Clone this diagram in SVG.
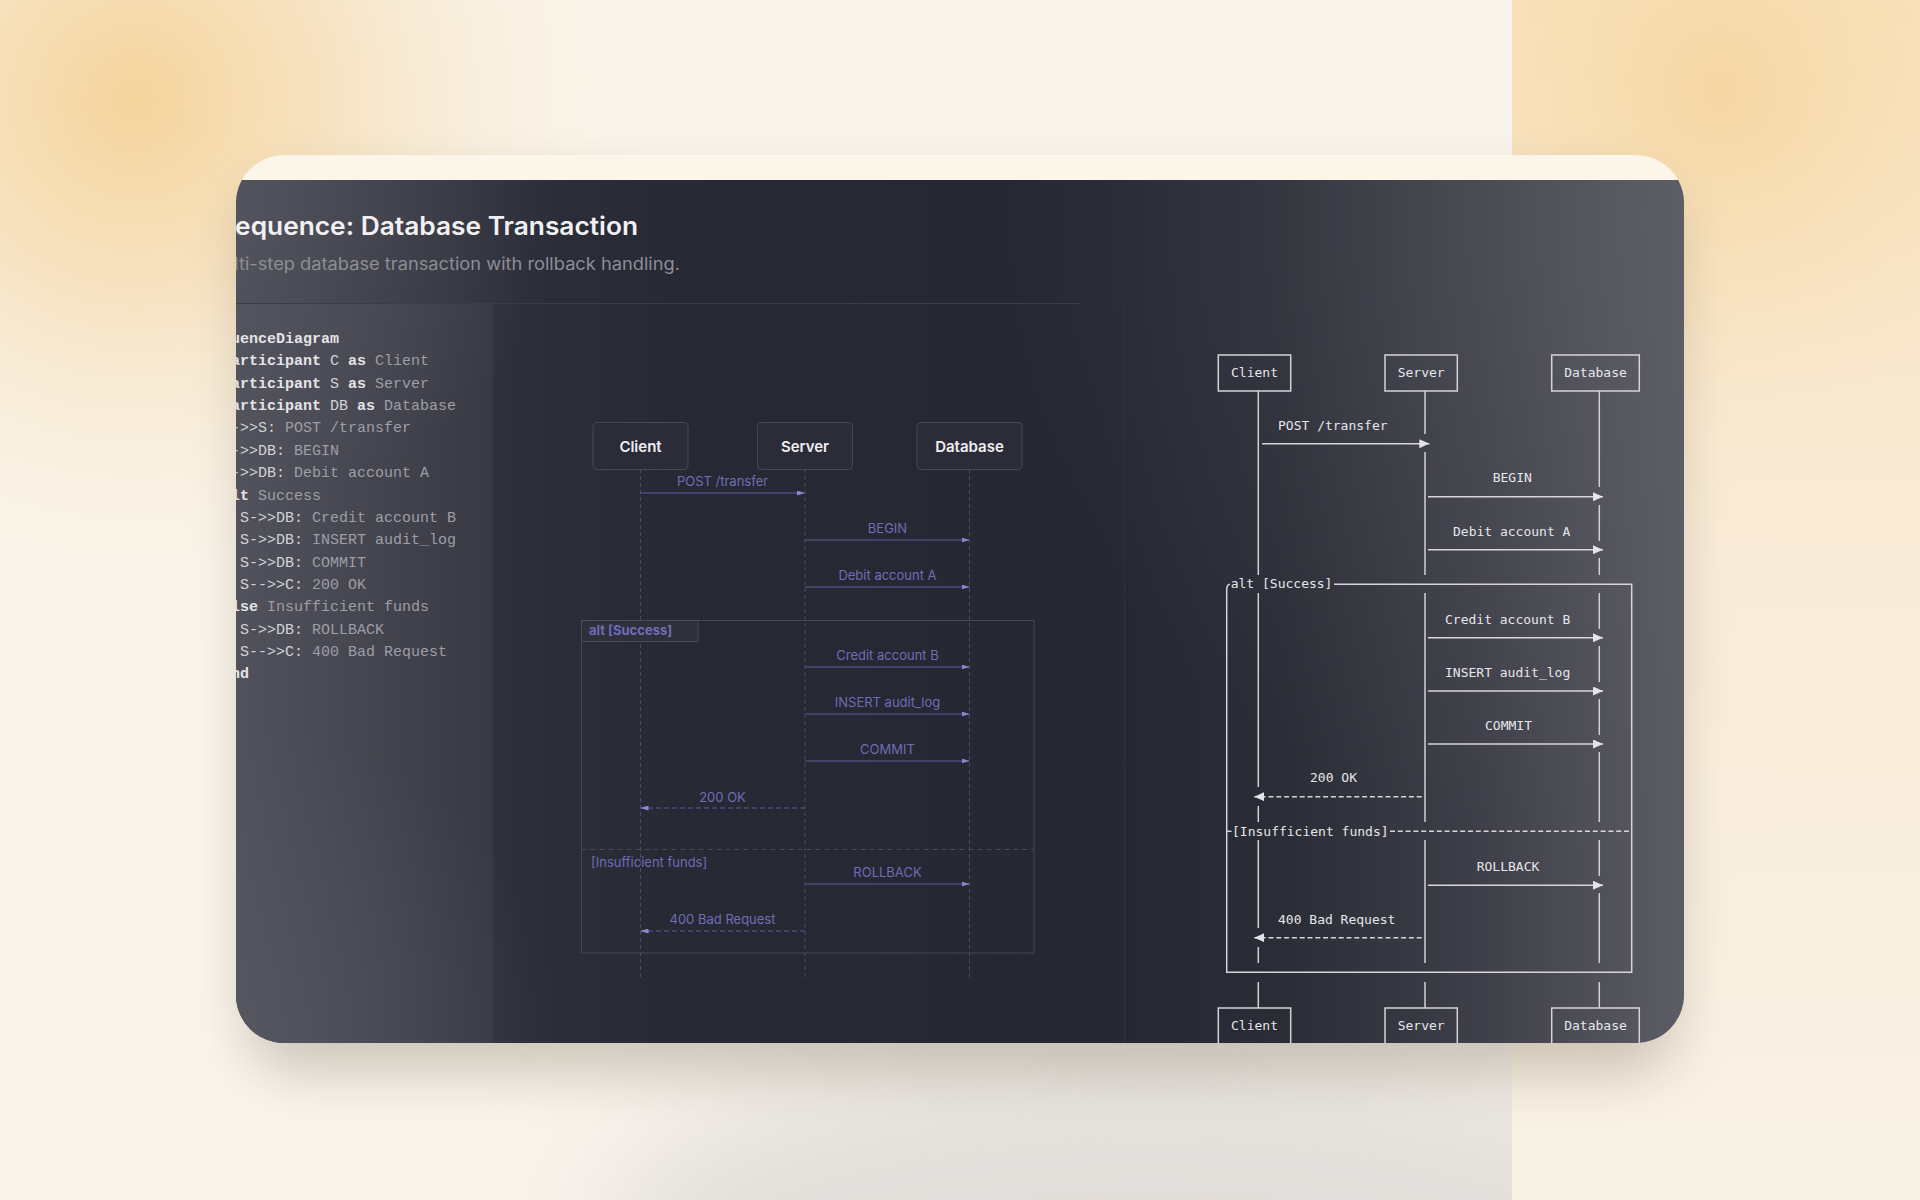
<svg xmlns="http://www.w3.org/2000/svg" width="1920" height="1200" viewBox="0 0 1920 1200">
<defs>
<radialGradient id="bgTL" cx="135" cy="100" r="560" gradientUnits="userSpaceOnUse">
<stop offset="0" stop-color="#f5d49c"/>
<stop offset="0.35" stop-color="#f7e3c2"/>
<stop offset="1" stop-color="#faf5ec" stop-opacity="0"/>
</radialGradient>
<linearGradient id="bgR" x1="0" y1="0" x2="0" y2="1">
<stop offset="0" stop-color="#f8e1ba"/>
<stop offset="0.45" stop-color="#f9ebd6"/>
<stop offset="1" stop-color="#f9f2e7"/>
</linearGradient>
<radialGradient id="bgRT" cx="1720" cy="90" r="330" gradientUnits="userSpaceOnUse">
<stop offset="0" stop-color="#f6d6a2"/>
<stop offset="1" stop-color="#f8e1ba" stop-opacity="0"/>
</radialGradient>
<linearGradient id="dark" x1="236" y1="0" x2="1684" y2="0" gradientUnits="userSpaceOnUse">
<stop offset="0" stop-color="#4e4e58"/>
<stop offset="0.08" stop-color="#3e3f49"/>
<stop offset="0.2" stop-color="#2c2e39"/>
<stop offset="0.3" stop-color="#272934"/>
<stop offset="0.6" stop-color="#252733"/>
<stop offset="0.72" stop-color="#2a2c36"/>
<stop offset="0.86" stop-color="#3e3f48"/>
<stop offset="1" stop-color="#5b5c64"/>
</linearGradient>
<linearGradient id="codeBg" x1="236" y1="0" x2="492" y2="0" gradientUnits="userSpaceOnUse">
<stop offset="0" stop-color="#52525c"/>
<stop offset="0.5" stop-color="#45464f"/>
<stop offset="1" stop-color="#383943"/>
</linearGradient>
<radialGradient id="glowTL" cx="260" cy="200" r="300" gradientUnits="userSpaceOnUse">
<stop offset="0" stop-color="#5a5a64" stop-opacity="0.45"/>
<stop offset="1" stop-color="#5a5a64" stop-opacity="0"/>
</radialGradient>
<radialGradient id="glowBL" cx="240" cy="1043" r="320" gradientUnits="userSpaceOnUse">
<stop offset="0" stop-color="#5c5c66" stop-opacity="0.45"/>
<stop offset="1" stop-color="#5c5c66" stop-opacity="0"/>
</radialGradient>
<radialGradient id="glowTR" cx="1640" cy="220" r="640" gradientUnits="userSpaceOnUse">
<stop offset="0" stop-color="#5e5f67" stop-opacity="0.5"/>
<stop offset="0.6" stop-color="#5e5f67" stop-opacity="0.18"/>
<stop offset="1" stop-color="#5e5f67" stop-opacity="0"/>
</radialGradient>
<clipPath id="cardClip"><rect x="236" y="155" width="1448" height="888" rx="48"/></clipPath>
<clipPath id="leftClip"><rect x="0" y="0" width="1512" height="1200"/></clipPath>
<filter id="shadow" x="-10%" y="-10%" width="120%" height="130%"><feGaussianBlur stdDeviation="28"/></filter>
<filter id="soft" x="-50%" y="-50%" width="200%" height="200%"><feGaussianBlur stdDeviation="70"/></filter>
<marker id="mArr" viewBox="0 0 8 5" refX="8" refY="2.5" markerWidth="8" markerHeight="5" markerUnits="userSpaceOnUse" orient="auto">
<path d="M0,0 L8,2.5 L0,5 Z" fill="#8a88d0"/>
</marker>
<marker id="rArr" viewBox="0 0 10 9" refX="10" refY="4.5" markerWidth="10" markerHeight="9" markerUnits="userSpaceOnUse" orient="auto">
<path d="M0,0 L10,4.5 L0,9 Z" fill="#e4e4e8"/>
</marker>
<style>
.title{font-family:Inter,"Noto Sans",sans-serif;font-size:25px;font-weight:600;fill:#f1f1f3}
.sub{font-family:Inter,"Noto Sans",sans-serif;font-size:17px;fill:#8d8e96}
.code{font-family:"Liberation Mono","DejaVu Sans Mono",monospace;font-size:15px}
.kw{font-weight:700;fill:#e4e4e8}
.id{fill:#d2d3d8}
.tx{fill:#9d9ea6}
.mbox{fill:#2b2c37;stroke:#474856;stroke-width:1}
.mname{font-family:Inter,"Noto Sans",sans-serif;font-size:15px;font-weight:600;fill:#eeeef2;text-anchor:middle}
.mlife{stroke:#4a4a6a;stroke-width:1;stroke-dasharray:4 3;fill:none}
.mmsg{stroke:#5e5d9c;stroke-width:1.2;fill:none}
.mdash{stroke-dasharray:5 3}
.mlbl{font-family:Inter,"Noto Sans",sans-serif;font-size:13px;fill:#6f6db4;text-anchor:middle}
.mframe{fill:none;stroke:#454657;stroke-width:1}
.mflbl{font-family:Inter,"Noto Sans",sans-serif;font-size:13px;fill:#6f6db4}
.rbox{fill:none;stroke:#d4d4d8;stroke-width:1.5}
.rtxt{font-family:"DejaVu Sans Mono","Liberation Mono",monospace;font-size:13px;fill:#e6e6ea}
.rname{text-anchor:middle}
.rline{stroke:#d6d6da;stroke-width:1.5;fill:none}
.rdash{stroke-dasharray:5 2.8}
.rlife{stroke:#cfcfd4;stroke-width:1.5;fill:none}
</style>
</defs>

<!-- background -->
<rect x="0" y="0" width="1920" height="1200" fill="#faf4ea"/>
<g clip-path="url(#leftClip)">
<rect x="0" y="0" width="1512" height="1200" fill="#faf5ec"/>
<rect x="0" y="0" width="1512" height="1200" fill="url(#bgTL)"/>
<ellipse cx="1150" cy="1240" rx="560" ry="190" fill="#d2cece" opacity="0.6" filter="url(#soft)"/>
</g>
<rect x="1512" y="0" width="408" height="1200" fill="url(#bgR)"/>
<rect x="1512" y="0" width="408" height="1200" fill="url(#bgRT)"/>

<!-- card -->
<rect x="246" y="185" width="1428" height="888" rx="48" fill="#6e6250" opacity="0.32" filter="url(#shadow)"/>
<g clip-path="url(#cardClip)">
<rect x="236" y="155" width="1448" height="888" fill="#fcf5e9"/>
<rect x="236" y="180" width="1448" height="863" fill="url(#dark)"/>
<rect x="236" y="304" width="256" height="739" fill="url(#codeBg)"/>
<rect x="236" y="180" width="1448" height="863" fill="url(#glowTL)"/>
<rect x="236" y="180" width="1448" height="863" fill="url(#glowBL)"/>
<rect x="236" y="180" width="1448" height="863" fill="url(#glowTR)"/>
<line x1="236" y1="303.5" x2="1080" y2="303.5" stroke="#3a3c48" stroke-width="1"/>
<line x1="492.5" y1="304" x2="492.5" y2="1043" stroke="#3a3b46" stroke-width="1"/>
<line x1="1124.5" y1="304" x2="1124.5" y2="1043" stroke="#30323d" stroke-width="1"/>

<text class="title" x="218" y="235" textLength="420" lengthAdjust="spacingAndGlyphs">Sequence: Database Transaction</text>
<text class="sub" x="207" y="270" textLength="473" lengthAdjust="spacingAndGlyphs">Multi-step database transaction with rollback handling.</text>

<!-- code panel -->
<g id="code" class="code">
<text x="204" y="343"><tspan class="kw">sequenceDiagram</tspan></text>
<text x="222" y="365.4"><tspan class="kw">participant</tspan> <tspan class="id">C</tspan> <tspan class="kw">as</tspan> <tspan class="tx">Client</tspan></text>
<text x="222" y="387.7"><tspan class="kw">participant</tspan> <tspan class="id">S</tspan> <tspan class="kw">as</tspan> <tspan class="tx">Server</tspan></text>
<text x="222" y="410.1"><tspan class="kw">participant</tspan> <tspan class="id">DB</tspan> <tspan class="kw">as</tspan> <tspan class="tx">Database</tspan></text>
<text x="222" y="432.4"><tspan class="id">C->>S:</tspan> <tspan class="tx">POST /transfer</tspan></text>
<text x="222" y="454.8"><tspan class="id">S->>DB:</tspan> <tspan class="tx">BEGIN</tspan></text>
<text x="222" y="477.1"><tspan class="id">S->>DB:</tspan> <tspan class="tx">Debit account A</tspan></text>
<text x="222" y="499.5"><tspan class="kw">alt</tspan> <tspan class="tx">Success</tspan></text>
<text x="240" y="521.8"><tspan class="id">S->>DB:</tspan> <tspan class="tx">Credit account B</tspan></text>
<text x="240" y="544.2"><tspan class="id">S->>DB:</tspan> <tspan class="tx">INSERT audit_log</tspan></text>
<text x="240" y="566.5"><tspan class="id">S->>DB:</tspan> <tspan class="tx">COMMIT</tspan></text>
<text x="240" y="588.9"><tspan class="id">S-->>C:</tspan> <tspan class="tx">200 OK</tspan></text>
<text x="222" y="611.2"><tspan class="kw">else</tspan> <tspan class="tx">Insufficient funds</tspan></text>
<text x="240" y="633.6"><tspan class="id">S->>DB:</tspan> <tspan class="tx">ROLLBACK</tspan></text>
<text x="240" y="655.9"><tspan class="id">S-->>C:</tspan> <tspan class="tx">400 Bad Request</tspan></text>
<text x="222" y="678.3"><tspan class="kw">end</tspan></text>
</g>

<!-- middle (rendered) diagram -->
<g id="mid-lifelines">
<line class="mlife" x1="640.5" y1="469" x2="640.5" y2="977"/>
<line class="mlife" x1="805" y1="469" x2="805" y2="977"/>
<line class="mlife" x1="969.5" y1="469" x2="969.5" y2="977"/>
</g>
<g id="mid-alt-frame">
<rect class="mframe" x="581.5" y="620.5" width="452.5" height="332.5"/>
<rect x="581.5" y="620.5" width="116.5" height="21" fill="#2f303c" stroke="#4a4b5a" stroke-width="1"/>
<text class="mflbl" x="589" y="635" font-weight="700">alt [Success]</text>
<line x1="581.5" y1="849.5" x2="1034" y2="849.5" stroke="#4a4b5e" stroke-width="1" stroke-dasharray="5 4"/>
<text class="mflbl" x="591" y="867">[Insufficient funds]</text>
</g>
<g id="mid-client"><rect class="mbox" x="593" y="422.5" width="95" height="47" rx="4"/><text class="mname" x="640.5" y="451.5">Client</text></g>
<g id="mid-server"><rect class="mbox" x="757.5" y="422.5" width="95" height="47" rx="4"/><text class="mname" x="805" y="451.5">Server</text></g>
<g id="mid-database"><rect class="mbox" x="917" y="422.5" width="105" height="47" rx="4"/><text class="mname" x="969.5" y="451.5">Database</text></g>
<g id="mid-messages">
<line class="mmsg" x1="640.5" y1="493" x2="805" y2="493" marker-end="url(#mArr)"/>
<text class="mlbl" x="722.5" y="486">POST /transfer</text>
<line class="mmsg" x1="805" y1="540" x2="969.5" y2="540" marker-end="url(#mArr)"/>
<text class="mlbl" x="887.5" y="533">BEGIN</text>
<line class="mmsg" x1="805" y1="587" x2="969.5" y2="587" marker-end="url(#mArr)"/>
<text class="mlbl" x="887.5" y="580">Debit account A</text>
<line class="mmsg" x1="805" y1="667" x2="969.5" y2="667" marker-end="url(#mArr)"/>
<text class="mlbl" x="887.5" y="660">Credit account B</text>
<line class="mmsg" x1="805" y1="714" x2="969.5" y2="714" marker-end="url(#mArr)"/>
<text class="mlbl" x="887.5" y="707">INSERT audit_log</text>
<line class="mmsg" x1="805" y1="761" x2="969.5" y2="761" marker-end="url(#mArr)"/>
<text class="mlbl" x="887.5" y="754">COMMIT</text>
<line class="mmsg mdash" x1="805" y1="808" x2="640.5" y2="808" marker-end="url(#mArr)"/>
<text class="mlbl" x="722.5" y="802">200 OK</text>
<line class="mmsg" x1="805" y1="884" x2="969.5" y2="884" marker-end="url(#mArr)"/>
<text class="mlbl" x="887.5" y="877">ROLLBACK</text>
<line class="mmsg mdash" x1="805" y1="931" x2="640.5" y2="931" marker-end="url(#mArr)"/>
<text class="mlbl" x="722.5" y="924">400 Bad Request</text>
</g>

<!-- right (text-art) diagram -->
<g id="r-lifelines">
<path class="rlife" d="M1258.3,391 V575 M1258.3,593 V787 M1258.3,806 V822 M1258.3,840 V928 M1258.3,947 V963 M1258.3,982 V1008"/>
<path class="rlife" d="M1425,391 V434 M1425,452 V575 M1425,593 V822 M1425,840 V963 M1425,982 V1008"/>
<path class="rlife" d="M1599.3,391 V487 M1599.3,505 V541 M1599.3,558 V575 M1599.3,593 V629 M1599.3,646 V682 M1599.3,699 V735 M1599.3,752 V822 M1599.3,840 V876 M1599.3,893 V963 M1599.3,982 V1008"/>
</g>
<g id="r-alt-frame">
<path class="rline" d="M1226.7,590 V972.3 H1631.7 V584.3 H1334"/>
<path class="rline" d="M1226.7,590 Q1226.7,584.3 1230,584.3"/>
<text class="rtxt" x="1230.7" y="588">alt [Success]</text>
<line class="rline" x1="1226.7" y1="831.3" x2="1231.5" y2="831.3"/>
<text class="rtxt" x="1232" y="836">[Insufficient funds]</text>
<line class="rline rdash" x1="1390" y1="831.3" x2="1631.7" y2="831.3"/>
</g>
<g id="r-client-top"><rect class="rbox" x="1218.3" y="355" width="72.4" height="36"/><text class="rtxt rname" x="1254.5" y="376.5">Client</text></g>
<g id="r-server-top"><rect class="rbox" x="1385" y="355" width="72.3" height="36"/><text class="rtxt rname" x="1421.2" y="376.5">Server</text></g>
<g id="r-database-top"><rect class="rbox" x="1551.7" y="355" width="87.6" height="36"/><text class="rtxt rname" x="1595.5" y="376.5">Database</text></g>
<g id="r-client-bottom"><rect class="rbox" x="1218.3" y="1008" width="72.4" height="36"/><text class="rtxt rname" x="1254.5" y="1029.5">Client</text></g>
<g id="r-server-bottom"><rect class="rbox" x="1385" y="1008" width="72.3" height="36"/><text class="rtxt rname" x="1421.2" y="1029.5">Server</text></g>
<g id="r-database-bottom"><rect class="rbox" x="1551.7" y="1008" width="87.6" height="36"/><text class="rtxt rname" x="1595.5" y="1029.5">Database</text></g>
<g id="r-messages">
<text class="rtxt" x="1278" y="429.5">POST /transfer</text>
<line class="rline" x1="1262" y1="443.7" x2="1429.3" y2="443.7" marker-end="url(#rArr)"/>
<text class="rtxt" x="1492.7" y="482">BEGIN</text>
<line class="rline" x1="1428" y1="496.7" x2="1603" y2="496.7" marker-end="url(#rArr)"/>
<text class="rtxt" x="1453" y="535.5">Debit account A</text>
<line class="rline" x1="1428" y1="549.7" x2="1603" y2="549.7" marker-end="url(#rArr)"/>
<text class="rtxt" x="1445" y="623.5">Credit account B</text>
<line class="rline" x1="1428" y1="637.7" x2="1603" y2="637.7" marker-end="url(#rArr)"/>
<text class="rtxt" x="1445" y="677">INSERT audit_log</text>
<line class="rline" x1="1428" y1="691" x2="1603" y2="691" marker-end="url(#rArr)"/>
<text class="rtxt" x="1485" y="729.5">COMMIT</text>
<line class="rline" x1="1428" y1="744" x2="1603" y2="744" marker-end="url(#rArr)"/>
<text class="rtxt" x="1310" y="782">200 OK</text>
<line class="rline rdash" x1="1421.7" y1="796.7" x2="1254.3" y2="796.7" marker-end="url(#rArr)"/>
<text class="rtxt" x="1476.7" y="870.5">ROLLBACK</text>
<line class="rline" x1="1428" y1="885.3" x2="1603" y2="885.3" marker-end="url(#rArr)"/>
<text class="rtxt" x="1278" y="923.5">400 Bad Request</text>
<line class="rline rdash" x1="1421.7" y1="937.7" x2="1254.3" y2="937.7" marker-end="url(#rArr)"/>
</g>
</g>
</svg>
